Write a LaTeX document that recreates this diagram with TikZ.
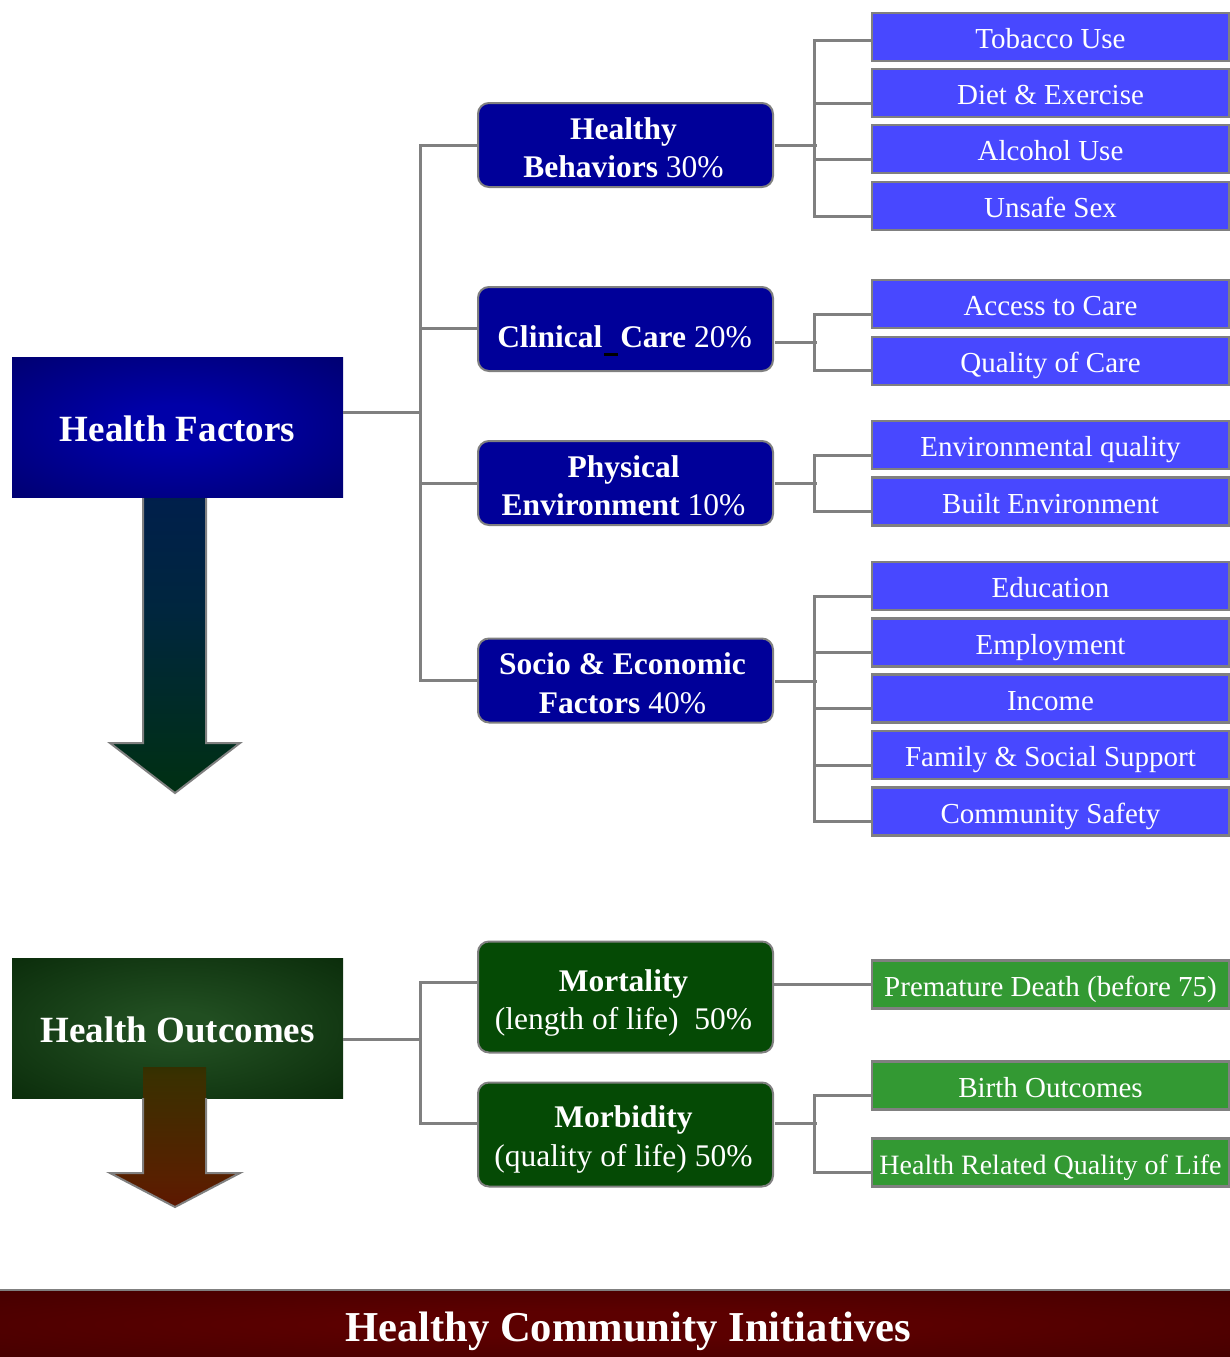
\documentclass[tikz,border=0pt]{standalone}
\usepackage{fontspec}
\setmainfont{Liberation Serif}
\usetikzlibrary{calc}
\definecolor{midblue}{HTML}{000099}
\definecolor{leafblue}{HTML}{4848FF}
\definecolor{midgreen}{HTML}{054A05}
\definecolor{leafgreen}{HTML}{339933}
\definecolor{conngray}{HTML}{808080}
\definecolor{hfin}{HTML}{0000A8}
\definecolor{hfout}{HTML}{000055}
\definecolor{hoin}{HTML}{214E21}
\definecolor{hoout}{HTML}{021F02}
\definecolor{barin}{HTML}{5C0000}
\definecolor{barout}{HTML}{3A0000}
\definecolor{arrAtop}{HTML}{00165E}
\definecolor{arrAmid}{HTML}{00263E}
\definecolor{arrAbot}{HTML}{003208}
\definecolor{arrBtop}{HTML}{002A00}
\definecolor{arrBmidA}{HTML}{3A3000}
\definecolor{arrBmidB}{HTML}{582000}
\definecolor{arrBbot}{HTML}{680000}
\pgfdeclareradialshading{hfshade}{\pgfpoint{0bp}{0bp}}{color(0bp)=(hfin); color(8bp)=(hfin); color(50bp)=(hfout); color(75bp)=(hfout)}
\pgfdeclareradialshading{hoshade}{\pgfpoint{0bp}{0bp}}{color(0bp)=(hoin); color(6bp)=(hoin); color(48bp)=(hoout); color(75bp)=(hoout)}
\pgfdeclareradialshading{barshade}{\pgfpoint{0bp}{0bp}}{color(0bp)=(barin); color(10bp)=(barin); color(50bp)=(barout); color(75bp)=(barout)}
\pgfdeclareverticalshading{arrAshade}{100bp}{color(0bp)=(arrAbot); color(18bp)=(arrAbot); color(55bp)=(arrAmid); color(100bp)=(arrAtop)}
\pgfdeclareverticalshading{arrBshade}{100bp}{color(0bp)=(arrBbot); color(35bp)=(arrBmidB); color(72bp)=(arrBmidA); color(100bp)=(arrBtop)}
\tikzset{
  conn/.style={draw=conngray, line width=3pt},
  bigbox/.style={rectangle, minimum width=331pt, minimum height=140pt, inner sep=0pt},
  bigtext/.style={inner sep=0pt, text=white, font=\fontsize{37}{42}\selectfont\bfseries},
  midbox/.style={rectangle, rounded corners=11pt, draw=conngray, line width=2pt,
    minimum width=295pt, inner sep=0pt},
  bluemid/.style={midbox, fill=midblue},
  greenmid/.style={midbox, fill=midgreen},
  midtext/.style={inner sep=0pt, text=white, align=center,
    font=\fontsize{31.5}{38.5}\selectfont},
  leaf/.style={rectangle, draw=conngray, line width=2.5pt, minimum width=357pt,
    minimum height=48pt, inner sep=0pt, text=white, text height=23pt, text depth=0pt,
    font=\fontsize{29}{34}\selectfont},
  blueleaf/.style={leaf, fill=leafblue},
  greenleaf/.style={leaf, fill=leafgreen},
  arrowline/.style={draw=conngray, line width=2pt, line join=miter}
}
\begin{document}
\begin{tikzpicture}[x=1pt, y=-1pt]
\useasboundingbox (0,0) rectangle (1230,1357);

% ---- arrow 1 (behind Health Factors box)
\shade[shading=arrAshade] (143,490) -- (206,490) -- (206,743) -- (240,743) -- (175,793)
  -- (110,743) -- (143,743) -- cycle;
\draw[arrowline] (143,490) -- (143,743) -- (110,743) -- (175,793) -- (240,743) -- (206,743) -- (206,490);

% ---- big boxes (shaded backgrounds)
\begin{scope}[transform canvas={shift={(177.5,427)}, xscale=3.31, yscale=1.40}]
  \shade[shading=hfshade] (-50,-50) rectangle (50,50);
\end{scope}
\begin{scope}[transform canvas={shift={(177.5,1028)}, xscale=3.31, yscale=1.40}]
  \shade[shading=hoshade] (-50,-50) rectangle (50,50);
\end{scope}
\node[bigbox] (hf) at (177.5,427) {};
\node[bigtext] (hft) at ($(hf.center)+(0,2)$) {Health Factors};
\node[bigbox] (ho) at (177.5,1028) {};
\node[bigtext] (hot) at ($(ho.center)+(0,2)$) {Health Outcomes};

% ---- arrow 2 (over Health Outcomes box)
\shade[shading=arrBshade] (143,1067) -- (206,1067) -- (206,1173) -- (240,1173) -- (175,1207)
  -- (110,1173) -- (143,1173) -- cycle;
\draw[arrowline] (143,1098) -- (143,1173) -- (110,1173) -- (175,1207) -- (240,1173) -- (206,1173) -- (206,1098);

% ---- middle boxes
\node[bluemid, minimum height=84pt] (hb) at (625.5,145) {};
\node[midtext] (hbt) at ($(hb.center)+(-2,3)$) {\textbf{Healthy}\\\textbf{Behaviors} 30\%};
\node[bluemid, minimum height=84pt] (cc) at (625.5,329) {};
\node[midtext] (cct) at ($(cc.center)+(-1,12)$) {\textbf{Clinical}\hspace{2pt}{\color{black}\rule[-9pt]{14pt}{3pt}}\hspace{2pt}\textbf{Care} 20\%};
\node[bluemid, minimum height=84pt] (pe) at (625.5,483) {};
\node[midtext] (pet) at ($(pe.center)+(-2,3)$) {\textbf{Physical}\\\textbf{Environment} 10\%};
\node[bluemid, minimum height=84pt] (se) at (625.5,680.5) {};
\node[midtext] (set) at ($(se.center)+(-3,3)$) {\textbf{Socio \& Economic}\\\textbf{Factors} 40\%};
\node[greenmid, minimum height=111pt] (mo) at (625.5,997) {};
\node[midtext] (mot) at ($(mo.center)+(-2,6)$) {\textbf{Mortality}\\(length of life)\ \ 50\%};
\node[greenmid, minimum height=104pt] (mb) at (625.5,1134.5) {};
\node[midtext] (mbt) at ($(mb.center)+(-2,5)$) {\textbf{Morbidity}\\(quality of life) 50\%};

% ---- leaves
\node[blueleaf] (tob) at (1050.5,37) {Tobacco Use};
\node[blueleaf] (diet) at (1050.5,93) {Diet \& Exercise};
\node[blueleaf] (alc) at (1050.5,149) {Alcohol Use};
\node[blueleaf] (uns) at (1050.5,206) {Unsafe Sex};
\node[blueleaf] (acc) at (1050.5,304) {Access to Care};
\node[blueleaf] (qoc) at (1050.5,361) {Quality of Care};
\node[blueleaf] (env) at (1050.5,445) {Environmental quality};
\node[blueleaf] (blt) at (1050.5,501.5) {Built Environment};
\node[blueleaf] (edu) at (1050.5,586) {Education};
\node[blueleaf] (emp) at (1050.5,642.5) {Employment};
\node[blueleaf] (inc) at (1050.5,698.5) {Income};
\node[blueleaf] (fam) at (1050.5,755) {Family \& Social Support};
\node[blueleaf] (com) at (1050.5,811.5) {Community Safety};
\node[greenleaf] (pd) at (1050.5,984.5) {Premature Death (before 75)};
\node[greenleaf] (bo) at (1050.5,1085.5) {Birth Outcomes};
\node[greenleaf, font=\fontsize{28}{33}\selectfont] (hrql) at (1050.5,1162.5) {Health Related Quality of Life};

% ---- left tree (factors)
\draw[conn] ($(hf.east)+(0,-15)$) -- ++(79,0);
\draw[conn] (hb.west) -- ++(-57,0) |- (se.west);
\draw[conn] ($(cc.west)+(0,-1)$) -- ++(-57,0);
\draw[conn] (pe.west) -- ++(-57,0);

% ---- right trees
\draw[conn] ($(hb.east)+(1,0)$) -- ++(42,0);
\draw[conn] ($(tob.west)+(0,3)$) -- ++(-56,0) |- ($(uns.west)+(0,10)$);
\draw[conn] ($(diet.west)+(0,10)$) -- ++(-56,0);
\draw[conn] ($(alc.west)+(0,10)$) -- ++(-56,0);

\draw[conn] ($(cc.east)+(1,13)$) -- ++(42,0);
\draw[conn] ($(acc.west)+(0,10)$) -- ++(-56,0) |- ($(qoc.west)+(0,9)$);

\draw[conn] ($(pe.east)+(1,0)$) -- ++(42,0);
\draw[conn] ($(env.west)+(0,10)$) -- ++(-56,0) |- ($(blt.west)+(0,9.5)$);

\draw[conn] ($(se.east)+(1,0.5)$) -- ++(42,0);
\draw[conn] ($(edu.west)+(0,10)$) -- ++(-56,0) |- ($(com.west)+(0,10)$);
\draw[conn] ($(emp.west)+(0,10)$) -- ++(-56,0);
\draw[conn] ($(inc.west)+(0,10)$) -- ++(-56,0);
\draw[conn] ($(fam.west)+(0,10)$) -- ++(-56,0);

% ---- outcomes tree
\draw[conn] ($(ho.east)+(0,11)$) -- ++(79,0);
\draw[conn] ($(mo.west)+(0,-15)$) -- ++(-57,0) |- ($(mb.west)+(0,-11.5)$);
\draw[conn] (mo.east |- pd.west) -- (pd.west);
\draw[conn] ($(mb.east)+(1,-11.5)$) -- ++(42,0);
\draw[conn] ($(bo.west)+(0,9.5)$) -- ++(-56,0) |- ($(hrql.west)+(0,9.5)$);

% ---- bottom bar
\begin{scope}[transform canvas={shift={(615,1324)}, xscale=12.3, yscale=0.66}]
  \shade[shading=barshade] (-50,-50) rectangle (50,50);
\end{scope}
\draw[draw=conngray, line width=2.5pt] (0,1290) -- (1230,1290);
\node[text=white, inner sep=0pt, font=\fontsize{42.6}{48}\selectfont\bfseries] (bar) at (628,1331) {Healthy Community Initiatives};
\end{tikzpicture}
\end{document}
